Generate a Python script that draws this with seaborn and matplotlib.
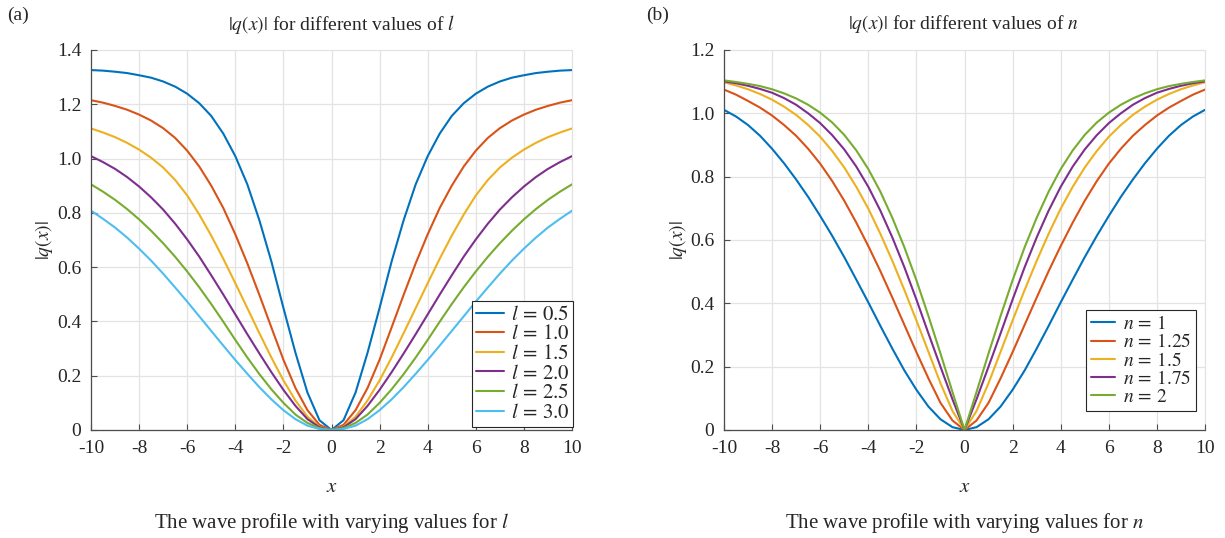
import matplotlib
matplotlib.use("Agg")
import matplotlib.pyplot as plt
import numpy as np
import pandas as pd
import seaborn as sns

# ---- data (left half; curves are symmetric about x=0) ----
x_half = [-10, -9.5, -9, -8.5, -8, -7.5, -7, -6.5, -6, -5.5, -5, -4.5, -4,
          -3.5, -3, -2.5, -2, -1.5, -1, -0.5, 0]

# panel (a): varying l
l_labels = [r"$l\, =\, 0.5$", r"$l\, =\, 1.0$", r"$l\, =\, 1.5$",
            r"$l\, =\, 2.0$", r"$l\, =\, 2.5$", r"$l\, =\, 3.0$"]
q_l05 = [1.326, 1.324, 1.320, 1.315, 1.307, 1.298, 1.284, 1.265, 1.239, 1.204, 1.157, 1.092, 1.009,
         0.905, 0.773, 0.621, 0.450, 0.285, 0.138, 0.036, 0.0]
q_l10 = [1.215, 1.206, 1.194, 1.180, 1.162, 1.140, 1.112, 1.076, 1.029, 0.971, 0.900, 0.818, 0.721,
         0.614, 0.498, 0.378, 0.259, 0.155, 0.073, 0.019, 0.0]
q_l15 = [1.111, 1.096, 1.079, 1.058, 1.033, 1.003, 0.967, 0.921, 0.864, 0.794, 0.716, 0.631, 0.541,
         0.449, 0.357, 0.267, 0.183, 0.109, 0.049, 0.012, 0.0]
q_l20 = [1.009, 0.987, 0.962, 0.932, 0.897, 0.857, 0.812, 0.760, 0.702, 0.639, 0.570, 0.499, 0.426,
         0.353, 0.282, 0.213, 0.148, 0.089, 0.040, 0.010, 0.0]
q_l25 = [0.905, 0.878, 0.848, 0.814, 0.776, 0.734, 0.688, 0.638, 0.584, 0.526, 0.464, 0.399, 0.332,
         0.267, 0.206, 0.150, 0.100, 0.057, 0.026, 0.007, 0.0]
q_l30 = [0.808, 0.778, 0.746, 0.709, 0.668, 0.624, 0.576, 0.525, 0.473, 0.419, 0.365, 0.311, 0.258,
         0.207, 0.158, 0.113, 0.073, 0.040, 0.016, 0.004, 0.0]
series_l = [q_l05, q_l10, q_l15, q_l20, q_l25, q_l30]

# panel (b): varying n
n_labels = [r"$n\, =\, 1$", r"$n\, =\, 1.25$", r"$n\, =\, 1.5$", r"$n\, =\, 1.75$", r"$n\, =\, 2$"]
q_n100 = [1.011, 0.990, 0.963, 0.929, 0.888, 0.842, 0.791, 0.736, 0.676, 0.613, 0.546, 0.475, 0.403,
          0.329, 0.257, 0.188, 0.127, 0.074, 0.034, 0.009, 0.0]
q_n125 = [1.075, 1.059, 1.039, 1.018, 0.993, 0.963, 0.929, 0.888, 0.841, 0.786, 0.724, 0.655, 0.581,
          0.502, 0.418, 0.332, 0.246, 0.163, 0.086, 0.030, 0.0]
q_n150 = [1.098, 1.088, 1.076, 1.061, 1.043, 1.021, 0.995, 0.963, 0.926, 0.881, 0.829, 0.768, 0.699,
          0.620, 0.534, 0.442, 0.346, 0.247, 0.148, 0.060, 0.0]
q_n175 = [1.101, 1.095, 1.087, 1.077, 1.065, 1.048, 1.027, 1.000, 0.969, 0.931, 0.886, 0.832, 0.768,
          0.693, 0.608, 0.514, 0.412, 0.305, 0.200, 0.097, 0.0]
q_n200 = [1.104, 1.099, 1.093, 1.086, 1.076, 1.063, 1.047, 1.027, 1.002, 0.971, 0.932, 0.883, 0.824,
          0.753, 0.670, 0.577, 0.473, 0.360, 0.242, 0.120, 0.0]
series_n = [q_n100, q_n125, q_n150, q_n175, q_n200]

x_ticks = [-10, -8, -6, -4, -2, 0, 2, 4, 6, 8, 10]
x_ticklabels = ["-10", "-8", "-6", "-4", "-2", "0", "2", "4", "6", "8", "10"]
y_ticks_a = [0, 0.2, 0.4, 0.6, 0.8, 1.0, 1.2, 1.4]
y_ticklabels_a = ["0", "0.2", "0.4", "0.6", "0.8", "1.0", "1.2", "1.4"]
y_ticks_b = [0, 0.2, 0.4, 0.6, 0.8, 1.0, 1.2]
y_ticklabels_b = ["0", "0.2", "0.4", "0.6", "0.8", "1.0", "1.2"]

colors = ["#0072BD", "#D95319", "#EDB120", "#7E2F8E", "#77AC30", "#4DBEEE"]


def full_curve(xh, yh):
    xs = list(xh) + [-v for v in reversed(xh[:-1])]
    ys = list(yh) + list(reversed(yh[:-1]))
    return xs, ys


def make_df(labels, series):
    rows = []
    for lab, ys in zip(labels, series):
        xs, yf = full_curve(x_half, ys)
        for a, b in zip(xs, yf):
            rows.append({"x": a, "q": b, "label": lab})
    return pd.DataFrame(rows)


sns.set_theme(style="white")
plt.rcParams["font.family"] = ["Liberation Serif", "DejaVu Serif"]
plt.rcParams["mathtext.fontset"] = "stix"
plt.rcParams["axes.unicode_minus"] = False

W, H = 1225, 538
fig = plt.figure(figsize=(W / 100, H / 100), dpi=100)

def px_axes(x0, x1, y0, y1):
    return fig.add_axes([x0 / W, 1 - y1 / H, (x1 - x0) / W, (y1 - y0) / H])

ax_a = px_axes(91, 572, 50, 430)
ax_b = px_axes(724, 1205, 50, 430)

dark = "#262626"

def style_axes(ax, yticks, ylabels, ymax):
    ax.set_xlim(-10, 10)
    ax.set_ylim(0, ymax)
    ax.set_xticks(x_ticks)
    ax.set_xticklabels(x_ticklabels)
    ax.set_yticks(yticks)
    ax.set_yticklabels(ylabels)
    ax.grid(True, color="#e3e3e3", linewidth=0.9)
    ax.set_axisbelow(True)
    for s in ["top", "right"]:
        ax.spines[s].set_visible(False)
    for s in ["left", "bottom"]:
        ax.spines[s].set_color("#4d4d4d")
        ax.spines[s].set_linewidth(0.9)
    ax.tick_params(axis="both", direction="in", length=4, width=0.8, color="#4d4d4d",
                   labelsize=14, labelcolor=dark, pad=7, bottom=True, left=True)
    for gl in ax.get_xgridlines() + ax.get_ygridlines():
        gl.set_clip_on(False)
    ax.set_xlabel("")
    ax.set_ylabel("")


df_a = make_df(l_labels, series_l)
sns.lineplot(data=df_a, x="x", y="q", hue="label", hue_order=l_labels,
             palette=colors[:6], estimator=None, linewidth=1.5, ax=ax_a)
style_axes(ax_a, y_ticks_a, y_ticklabels_a, 1.4)
h, lb = ax_a.get_legend_handles_labels()
leg = ax_a.legend(h, lb, loc="lower right", bbox_to_anchor=(1.003, 0.008), fontsize=15,
                  frameon=True, fancybox=False, edgecolor=dark, framealpha=1,
                  handlelength=1.35, handletextpad=0.3, labelspacing=0.0,
                  borderpad=0.2, borderaxespad=0.0)
leg.get_frame().set_linewidth(0.8)

df_b = make_df(n_labels, series_n)
sns.lineplot(data=df_b, x="x", y="q", hue="label", hue_order=n_labels,
             palette=colors[:5], estimator=None, linewidth=1.5, ax=ax_b)
style_axes(ax_b, y_ticks_b, y_ticklabels_b, 1.2)
h, lb = ax_b.get_legend_handles_labels()
leg = ax_b.legend(h, lb, loc="lower right", bbox_to_anchor=(0.981, 0.05), fontsize=14,
                  frameon=True, fancybox=False, edgecolor=dark, framealpha=1,
                  handlelength=1.25, handletextpad=0.4, labelspacing=0.02,
                  borderpad=0.25, borderaxespad=0.0)
leg.get_frame().set_linewidth(0.8)

# text elements
fig.text(341 / W, 1 - 24 / H, r"$|q(x)|$ for different values of $l$", ha="center", va="center", fontsize=14, color=dark)
fig.text(963 / W, 1 - 24 / H, r"$|q(x)|$ for different values of $n$", ha="center", va="center", fontsize=14, color=dark)
fig.text(331.5 / W, 1 - 487 / H, r"$x$", ha="center", va="center", fontsize=15, color=dark)
fig.text(964.5 / W, 1 - 487 / H, r"$x$", ha="center", va="center", fontsize=15, color=dark)
fig.text(331.5 / W, 1 - 523 / H, r"The wave profile with varying values for $l$", ha="center", va="center", fontsize=15, color=dark)
fig.text(964.5 / W, 1 - 523 / H, r"The wave profile with varying values for $n$", ha="center", va="center", fontsize=15, color=dark)
fig.text(44 / W, 1 - 240 / H, r"$|q(x)|$", ha="center", va="center", rotation=90, fontsize=14, color=dark)
fig.text(678 / W, 1 - 240 / H, r"$|q(x)|$", ha="center", va="center", rotation=90, fontsize=14, color=dark)
fig.text(18 / W, 1 - 15 / H, "(a)", ha="center", va="center", fontsize=14, color=dark)
fig.text(658 / W, 1 - 15 / H, "(b)", ha="center", va="center", fontsize=14, color=dark)

fig.savefig("out.png", dpi=100)
